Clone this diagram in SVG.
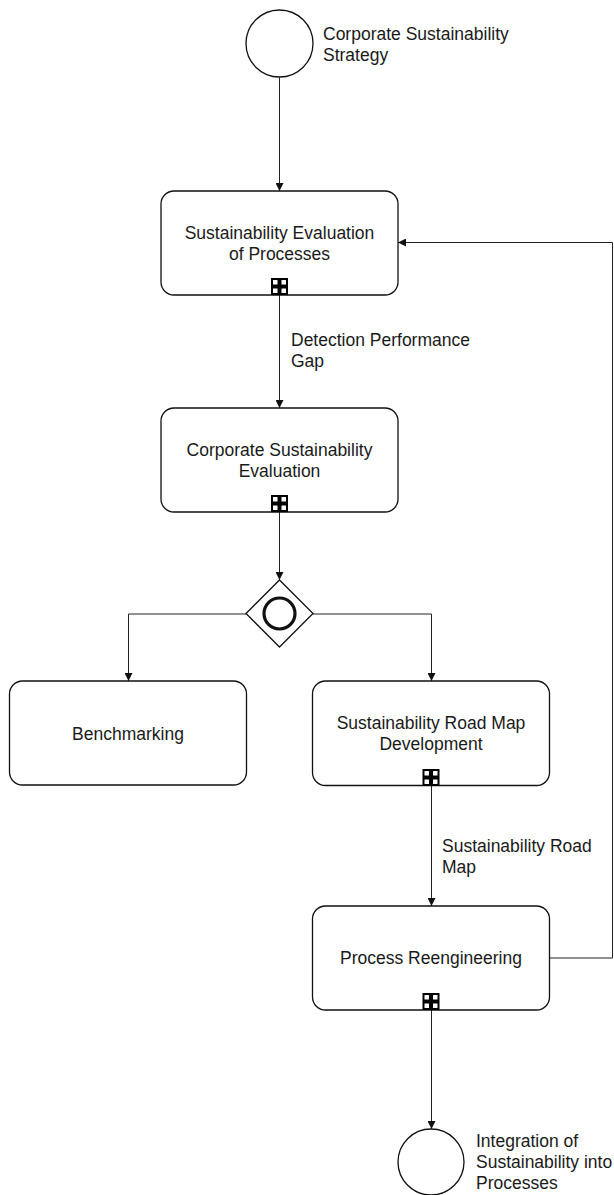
<svg xmlns="http://www.w3.org/2000/svg" width="614" height="1195" viewBox="0 0 614 1195">
  <style>
    .task { fill: #fff; stroke: #111; stroke-width: 1.3; }
    .event { fill: #fff; stroke: #111; stroke-width: 1.3; }
    .flow { fill: none; stroke: #222; stroke-width: 1; }
    .lbl { font-family: "Liberation Sans", Arial, sans-serif; font-size: 17.5px; fill: #1a1a1a; }
    .mid { text-anchor: middle; }
  </style>
  <defs>
    <marker id="arrow" viewBox="0 0 10 10" refX="10" refY="5" markerWidth="8" markerHeight="8" markerUnits="userSpaceOnUse" orient="auto">
      <path d="M0,0 L10,5 L0,10 z" fill="#111"/>
    </marker>
    <!-- collapsed sub-process marker -->
    <g id="subMarker">
      <rect x="-8.5" y="-17" width="17" height="17" fill="#000"/>
      <rect x="-6.5" y="-15" width="4.5" height="4.5" fill="#fff"/>
      <rect x="2" y="-15" width="4.5" height="4.5" fill="#fff"/>
      <rect x="-6.5" y="-6.5" width="4.5" height="4.5" fill="#fff"/>
      <rect x="2" y="-6.5" width="4.5" height="4.5" fill="#fff"/>
    </g>
  </defs>

  <g id="connectors">
    <path class="flow" d="M279.5,77.5 V191" marker-end="url(#arrow)"/>
    <path class="flow" d="M279.5,295 V408" marker-end="url(#arrow)"/>
    <path class="flow" d="M279.5,512 V580" marker-end="url(#arrow)"/>
    <path class="flow" d="M246,614 H128.5 V681" marker-end="url(#arrow)"/>
    <path class="flow" d="M313,614 H431.5 V681" marker-end="url(#arrow)"/>
    <path class="flow" d="M431.5,786 V906" marker-end="url(#arrow)"/>
    <path class="flow" d="M431.5,1010 V1129" marker-end="url(#arrow)"/>
    <path class="flow" d="M549,958 H612.5 V242.5 H398" stroke="#555" marker-end="url(#arrow)"/>
    <text class="lbl" x="291" y="346">Detection Performance</text>
    <text class="lbl" x="291" y="367">Gap</text>
    <text class="lbl" x="442" y="852">Sustainability Road</text>
    <text class="lbl" x="442" y="873">Map</text>
  </g>

  <g id="start">
    <circle class="event" cx="279.5" cy="43.5" r="33.5"/>
    <text class="lbl" x="323" y="40">Corporate Sustainability</text>
    <text class="lbl" x="323" y="61">Strategy</text>
  </g>

  <g id="evalProcesses">
    <rect class="task" x="161" y="191" width="237" height="104" rx="13"/>
    <text class="lbl mid" x="279.5" y="239">Sustainability Evaluation</text>
    <text class="lbl mid" x="279.5" y="260">of Processes</text>
    <use href="#subMarker" x="279.5" y="295"/>
  </g>

  <g id="corpEval">
    <rect class="task" x="161" y="408" width="237" height="104" rx="13"/>
    <text class="lbl mid" x="279.5" y="455.5">Corporate Sustainability</text>
    <text class="lbl mid" x="279.5" y="476.5">Evaluation</text>
    <use href="#subMarker" x="279.5" y="512"/>
  </g>

  <g id="gateway">
    <path d="M279.5,580 L313,613.5 L279.5,647 L246,613.5 z" fill="#fff" stroke="#111" stroke-width="1.3"/>
    <circle cx="279.5" cy="613.5" r="15.5" fill="none" stroke="#111" stroke-width="3.2"/>
  </g>

  <g id="benchmarking">
    <rect class="task" x="9.5" y="681" width="237" height="104" rx="13"/>
    <text class="lbl mid" x="128" y="740">Benchmarking</text>
  </g>

  <g id="roadMapDev">
    <rect class="task" x="312.5" y="681" width="237" height="104.5" rx="13"/>
    <text class="lbl mid" x="431" y="729">Sustainability Road Map</text>
    <text class="lbl mid" x="431" y="750">Development</text>
    <use href="#subMarker" x="431" y="786"/>
  </g>

  <g id="reengineering">
    <rect class="task" x="312.5" y="906" width="237" height="104" rx="13"/>
    <text class="lbl mid" x="431" y="964">Process Reengineering</text>
    <use href="#subMarker" x="431" y="1010"/>
  </g>

  <g id="end">
    <circle class="event" cx="431" cy="1162" r="33"/>
    <text class="lbl" x="476" y="1147">Integration of</text>
    <text class="lbl" x="476" y="1168">Sustainability into</text>
    <text class="lbl" x="476" y="1189">Processes</text>
  </g>
</svg>
